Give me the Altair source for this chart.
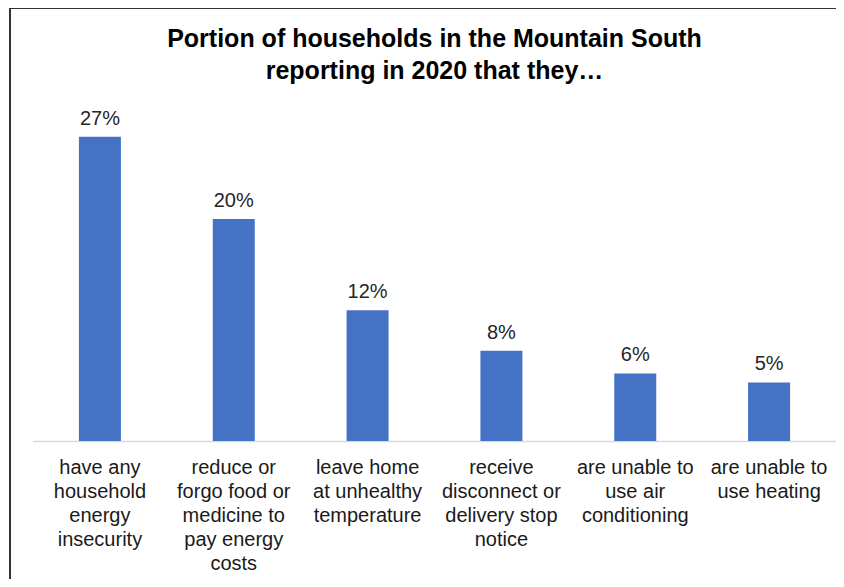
import altair as alt
import pandas as pd

categories = [
    "have any\nhousehold\nenergy\ninsecurity",
    "reduce or\nforgo food or\nmedicine to\npay energy\ncosts",
    "leave home\nat unhealthy\ntemperature",
    "receive\ndisconnect or\ndelivery stop\nnotice",
    "are unable to\nuse air\nconditioning",
    "are unable to\nuse heating",
]
values = [27.0, 19.7, 11.6, 8.0, 6.0, 5.2]
value_labels = ["27%", "20%", "12%", "8%", "6%", "5%"]

df = pd.DataFrame({"cat": categories, "val": values, "lab": value_labels})

FONT = "Liberation Sans, Arial, sans-serif"

base = alt.Chart(df).encode(
    x=alt.X(
        "cat:N",
        sort=None,
        title=None,
        scale=alt.Scale(paddingInner=0, paddingOuter=0),
        axis=alt.Axis(
            labelExpr="split(datum.label, '\\n')",
            labelAngle=0,
            labelFont=FONT,
            labelFontSize=20,
            labelColor="#1a1a1a",
            labelLineHeight=24,
            labelPadding=16,
            labelBaseline="top",
            ticks=False,
            domainColor="#d9d9d9",
            domainWidth=1.5,
            labelLimit=0,
        ),
    ),
    y=alt.Y("val:Q", scale=alt.Scale(domain=[0, 30]), axis=None),
)

bars = base.mark_bar(width=42, color="#4472C4")
texts = base.mark_text(
    dy=-12, baseline="alphabetic", font=FONT, fontSize=20, color="#262626"
).encode(text="lab:N")

frame_left = alt.Chart(df).mark_rule(color="#333333", strokeWidth=2).encode(
    x=alt.value(-23), y=alt.value(-95), y2=alt.value(490)
)
frame_top = alt.Chart(df).mark_rule(color="#333333", strokeWidth=2).encode(
    x=alt.value(-23), x2=alt.value(815), y=alt.value(-95)
)

chart = (
    alt.layer(bars, texts, frame_left, frame_top)
    .properties(
        width=803,
        height=338,
        background="white",
        title=alt.TitleParams(
            text=["Portion of households in the Mountain South", "reporting in 2020 that they…"],
            font=FONT,
            fontSize=25,
            fontWeight="bold",
            color="#000000",
            lineHeight=32,
            baseline="alphabetic",
            anchor="middle",
            offset=-97,
        ),
        autosize=alt.AutoSizeParams(type="none"),
        padding={"left": 25, "top": 95, "right": 0, "bottom": 138},
    )
    .configure_view(strokeWidth=0)
)

chart.save("out.html", embed_options={"renderer": "svg", "actions": False})
